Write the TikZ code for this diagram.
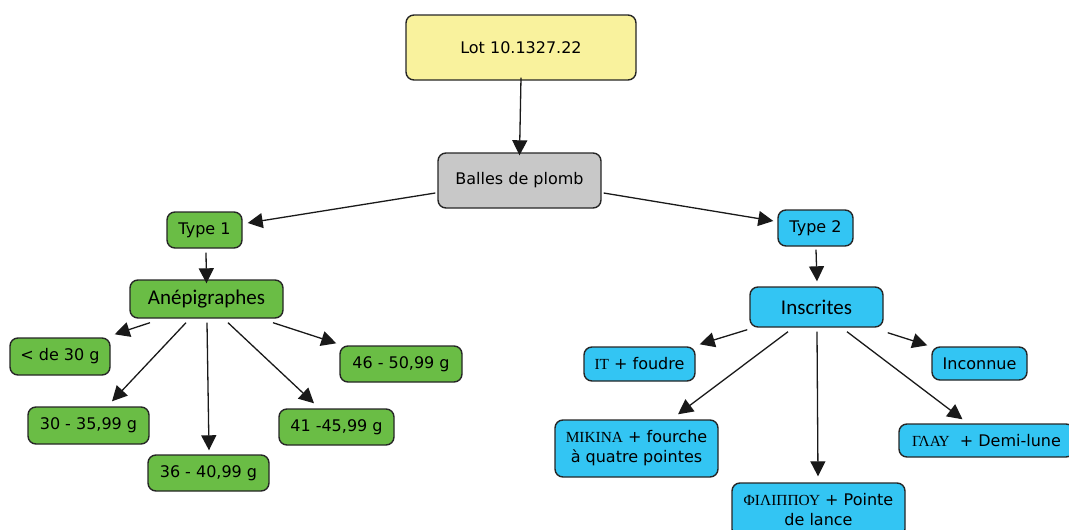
\documentclass[tikz,border=0pt]{standalone}
\usepackage{fontspec}
\setmainfont{DejaVu Sans}
\newfontfamily\grkfnt{Liberation Serif}
\newfontfamily\calfnt{Carlito}
\newcommand{\grk}[1]{{\grkfnt\fontsize{15.4}{20}\selectfont #1}}
\usetikzlibrary{arrows.meta}
\definecolor{cyellow}{HTML}{F9F29D}
\definecolor{cgrey}{HTML}{C8C8C8}
\definecolor{cgreen}{HTML}{6ABD45}
\definecolor{cblue}{HTML}{33C5F3}
\definecolor{cborder}{HTML}{262626}
\begin{document}
\begin{tikzpicture}[x=1pt,y=-1pt,
  box/.style={draw=cborder, line width=1.4pt, rounded corners=8pt, inner sep=0pt, align=center,
    font=\fontsize{16}{20}\selectfont, text=black},
  gbox/.style={box, fill=cgreen},
  bbox/.style={box, fill=cblue},
  big/.style={font=\calfnt\fontsize{21}{24}\selectfont},
  arr/.style={draw=black!90, line width=1.3pt, -{Triangle[length=15pt,width=15pt]}}
]
\useasboundingbox (0,0) rectangle (1069,530);
% nodes
\node[box, fill=cyellow, minimum width=230pt, minimum height=65pt] (lot) at (521,47.5) {Lot 10.1327.22};
\node[box, fill=cgrey, minimum width=163pt, minimum height=55pt] (balles) at (519.5,180.5) {Balles de plomb};
\node[gbox, minimum width=75pt, minimum height=36pt] (t1) at (204.5,230) {Type 1};
\node[gbox, big, minimum width=153pt, minimum height=38pt] (anep) at (206.5,299) {Anépigraphes};
\node[gbox, minimum width=100pt, minimum height=37pt] (lt30) at (60,356.5) {< de 30 g};
\node[gbox, minimum width=121pt, minimum height=37pt] (t30) at (88.5,425.5) {30 - 35,99 g};
\node[gbox, minimum width=121pt, minimum height=36pt] (t36) at (208.5,473) {36 - 40,99 g};
\node[gbox, minimum width=115pt, minimum height=36pt] (t41) at (336.5,427) {41 -45,99 g};
\node[gbox, minimum width=122pt, minimum height=36pt] (t46) at (401,364) {46 - 50,99 g};
\node[bbox, minimum width=75pt, minimum height=36pt] (t2) at (815.5,228) {Type 2};
\node[bbox, big, minimum width=133pt, minimum height=40pt] (ins) at (816.5,307) {Inscrites};
\node[bbox, minimum width=111pt, minimum height=34pt] (it) at (639.5,364) {\grk{ΙΤ} + foudre};
\node[bbox, minimum width=95pt, minimum height=33pt] (inc) at (979.5,363.5) {Inconnue};
\node[bbox, minimum width=163pt, minimum height=57pt] (mik) at (636.5,448.5) {\grk{ΜΙΚΙΝΑ} + fourche\\à quatre pointes};
\node[bbox, minimum width=175pt, minimum height=33pt] (glau) at (986.5,440.5) {\grk{ΓΛΑΥ}\ \ + Demi-lune};
\node[bbox, minimum width=173pt, minimum height=54pt] (phil) at (818.5,510) {\grk{ΦΙΛΙΠΠΟΥ} + Pointe\\de lance};
% connectors
\draw[arr] ([yshift=3]lot.south) -- ([yshift=-3]balles.north);
\draw[arr] ([shift={(-2,12.5)}]balles.west) -- ([shift={(5,-7)}]t1.east);
\draw[arr] ([shift={(2,12.5)}]balles.east) -- ([shift={(-4,-7)}]t2.west);
\draw[arr] ([shift={(1.5,4)}]t1.south) -- ([yshift=-4]anep.north);
\draw[arr] ([shift={(-56.5,4)}]anep.south) -- ([shift={(4,-3)}]lt30.north east);
\draw[arr] ([shift={(-20.5,4)}]anep.south) -- ([shift={(23.5,-5)}]t30.north);
\draw[arr] ([shift={(0.5,4)}]anep.south) -- ([shift={(0.5,-4)}]t36.north);
\draw[arr] ([shift={(21.5,4)}]anep.south) -- ([shift={(-22.5,-5)}]t41.north);
\draw[arr] ([shift={(66.5,4)}]anep.south) -- ([shift={(-3,-2)}]t46.north west);
\draw[arr] ([shift={(0.5,3)}]t2.south) -- ([shift={(0.5,-5)}]ins.north);
\draw[arr] ([shift={(-2,2)}]ins.south west) -- ([shift={(4,-2)}]it.north east);
\draw[arr] ([shift={(-28.5,4)}]ins.south) -- ([shift={(41.5,-5)}]mik.north);
\draw[arr] ([shift={(0.5,4)}]ins.south) -- ([shift={(-0.5,-6)}]phil.north);
\draw[arr] ([shift={(30.5,4)}]ins.south) -- ([shift={(-24,-4)}]glau.north);
\draw[arr] ([shift={(4,5)}]ins.south east) -- ([shift={(-4,-1)}]inc.north west);
\end{tikzpicture}
\end{document}
